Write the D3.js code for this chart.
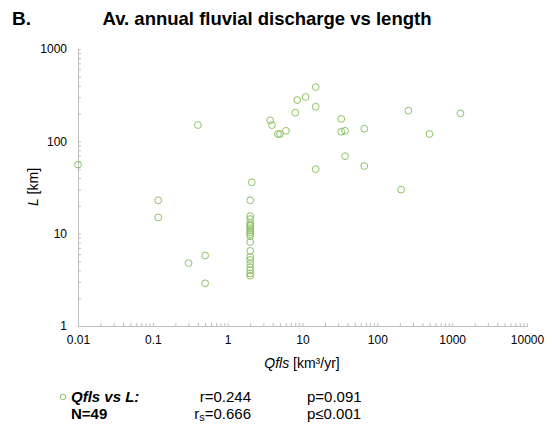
<!DOCTYPE html>
<html>
<head>
<meta charset="utf-8">
<script src="https://cdn.jsdelivr.net/npm/d3@7"></script>
<style>
  body { margin: 0; background: #fff; }
  text { font-family: "Liberation Sans", Arial, sans-serif; fill: #000; }
  .axis path, .axis line { stroke: #bfbfbf; }
</style>
</head>
<body>
<div id="chart"></div>
<script>
var width = 552;
var height = 425;

// Qfls [km3/yr] and L [km] for each river
var qfls = [0.01, 0.118, 0.118, 0.30, 0.50, 0.50, 0.40,
  3.7, 3.9, 4.7, 5.0, 6.0, 8.0, 8.5, 11, 15, 15, 15,
  33, 33, 37, 37, 67, 67, 208, 260, 497, 1290,
  2.1, 2.0, 2.0, 2.0, 2.0, 2.0, 2.0, 2.0, 2.0, 2.0, 2.0,
  2.0, 2.0, 2.0, 2.0, 2.0, 2.0, 2.0, 2.0, 2.0, 2.0];
var lengths = [56, 23, 15, 4.8, 5.8, 2.9, 150,
  169, 150, 120, 120, 130, 204, 280, 302, 387, 237, 50,
  175, 127, 130, 69, 137, 54, 30, 215, 120, 201,
  36, 23, 15.5, 14.4, 13.0, 12.4, 12.1, 11.5, 10.9, 10.4, 9.9,
  9.4, 8.1, 6.5, 5.6, 5.2, 4.7, 4.3, 4.0, 3.7, 3.5];

var xDecades = [0.01, 0.1, 1, 10, 100, 1000, 10000];
var yDecades = [1, 10, 100, 1000];
var xLabels = ["0.01", "0.1", "1", "10", "100", "1000", "10000"];
var yLabels = ["1", "10", "100", "1000"];

var stats = ["r=0.244", "p=0.091", "p\u22640.001"];

var svg = d3.select("#chart").append("svg")
  .attr("width", width)
  .attr("height", height);

var x = d3.scaleLog().domain([0.01, 10000]).range([78, 527]);
var y = d3.scaleLog().domain([1, 1000]).range([326, 49]);

function minorTicks(decades) {
  var t = [];
  decades.forEach(function(d, i) {
    if (i == decades.length - 1) { t.push(d); return; }
    for (var k = 1; k < 10; k++) t.push(+(d * k).toPrecision(3));
  });
  return t;
}

var xAxis = d3.axisBottom(x)
  .tickValues(minorTicks(xDecades))
  .tickSize(-3)
  .tickSizeOuter(0)
  .tickPadding(9)
  .tickFormat(function(d) {
    var i = xDecades.indexOf(d);
    return i < 0 ? "" : xLabels[i];
  });

var yAxis = d3.axisLeft(y)
  .tickValues(minorTicks(yDecades))
  .tickSize(-3)
  .tickSizeOuter(0)
  .tickPadding(11)
  .tickFormat(function(d) {
    var i = yDecades.indexOf(d);
    return i < 0 ? "" : yLabels[i];
  });

var gx = svg.append("g")
  .attr("class", "axis")
  .attr("transform", "translate(0," + y(1) + ")")
  .call(xAxis);
gx.selectAll("text").style("font-size", "12px").attr("fill", "#000")
  .attr("font-family", "Liberation Sans, Arial, sans-serif");

var gy = svg.append("g")
  .attr("class", "axis")
  .attr("transform", "translate(" + x(0.01) + ",0)")
  .call(yAxis);
gy.selectAll("text").style("font-size", "12px").attr("fill", "#000")
  .attr("font-family", "Liberation Sans, Arial, sans-serif");

// points
svg.append("g").selectAll("circle")
  .data(qfls)
  .enter().append("circle")
  .attr("cx", function(d) { return x(d); })
  .attr("cy", function(d, i) { return y(lengths[i]); })
  .attr("r", 3.4)
  .attr("fill", "none")
  .attr("stroke", "#8dc264")
  .attr("stroke-width", 1);

// titles
svg.append("text")
  .attr("x", 12).attr("y", 25)
  .style("font-size", "19px").style("font-weight", "bold")
  .text("B.");

svg.append("text")
  .attr("x", 267).attr("y", 25)
  .attr("text-anchor", "middle")
  .style("font-size", "18.5px").style("font-weight", "bold")
  .text("Av. annual fluvial discharge vs length");

var xt = svg.append("text")
  .attr("x", 302).attr("y", 368)
  .attr("text-anchor", "middle")
  .style("font-size", "14px");
xt.append("tspan").style("font-style", "italic").text("Qfls");
xt.append("tspan").text(" [km\u00b3/yr]");

var yt = svg.append("text")
  .attr("transform", "translate(38,187) rotate(-90)")
  .attr("text-anchor", "middle")
  .style("font-size", "14px");
yt.append("tspan").style("font-style", "italic").text("L");
yt.append("tspan").text(" [km]");

// legend
svg.append("circle")
  .attr("cx", 63).attr("cy", 397)
  .attr("r", 2.8)
  .attr("fill", "none")
  .attr("stroke", "#8dc264");

svg.append("text")
  .attr("x", 71).attr("y", 402)
  .style("font-size", "15px").style("font-weight", "bold").style("font-style", "italic")
  .text("Qfls vs L:");

svg.append("text")
  .attr("x", 71).attr("y", 419)
  .style("font-size", "15px").style("font-weight", "bold")
  .text("N=49");

svg.append("text")
  .attr("x", 251).attr("y", 402)
  .attr("text-anchor", "end")
  .style("font-size", "15px")
  .text(stats[0]);

var rs = svg.append("text")
  .attr("x", 251).attr("y", 419)
  .attr("text-anchor", "end")
  .style("font-size", "15px");
rs.append("tspan").text("r");
rs.append("tspan").attr("dy", 1.5).style("font-size", "11px").text("s");
rs.append("tspan").attr("dy", -1.5).text("=0.666");

svg.append("text")
  .attr("x", 307).attr("y", 402)
  .style("font-size", "15px")
  .text(stats[1]);

svg.append("text")
  .attr("x", 307).attr("y", 419)
  .style("font-size", "15px")
  .text(stats[2]);
</script>
</body>
</html>
